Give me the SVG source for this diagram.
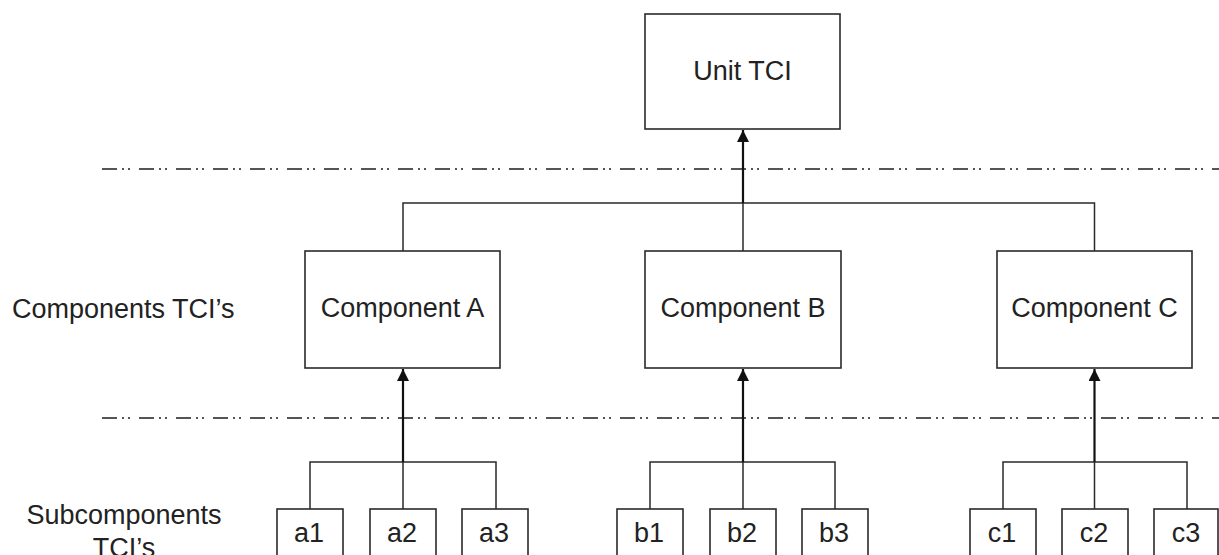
<svg xmlns="http://www.w3.org/2000/svg" width="1219" height="555" viewBox="0 0 1219 555">
  <style>
    .box { fill: #ffffff; stroke: #2a2a2a; stroke-width: 1.6; }
    .lbl { font-family: "Liberation Sans", Arial, sans-serif; font-size: 27px; fill: #222222; text-anchor: middle; }
    .side { font-family: "Liberation Sans", Arial, sans-serif; font-size: 27px; fill: #222222; }
    .link { fill: none; stroke: #2a2a2a; stroke-width: 1.5; }
    .arrow { fill: none; stroke: #111111; stroke-width: 2.2; marker-end: url(#head); }
    .level { fill: none; stroke: #555555; stroke-width: 2; stroke-dasharray: 15 5 2 4 2 9; }
  </style>
  <defs>
    <marker id="head" viewBox="0 0 12 12" refX="12" refY="6" markerWidth="12" markerHeight="12" markerUnits="userSpaceOnUse" orient="auto">
      <path d="M0,0 L12,6 L0,12 Z" fill="#111111"/>
    </marker>
  </defs>

  <!-- level separators -->
  <g id="levels">
    <line class="level" x1="102" y1="169" x2="1219" y2="169"/>
    <line class="level" x1="102" y1="418" x2="1219" y2="418"/>
  </g>

  <!-- side captions -->
  <g id="captions">
    <text class="side" x="12" y="318">Components TCI’s</text>
    <text class="lbl" x="124" y="524">Subcomponents</text>
    <text class="lbl" x="124" y="557">TCI’s</text>
  </g>

  <!-- connectors -->
  <g id="connectors">
    <!-- components to unit -->
    <path class="link" d="M403,251 V203 H1094.5 V251 M743,203 V251"/>
    <line class="arrow" x1="743" y1="203" x2="743" y2="130"/>
    <!-- subcomponents to component A -->
    <path class="link" d="M310,509 V462 H496 V509 M403,462 V509"/>
    <line class="arrow" x1="403" y1="462" x2="403" y2="369"/>
    <!-- subcomponents to component B -->
    <path class="link" d="M650,509 V462 H835 V509 M743,462 V509"/>
    <line class="arrow" x1="743" y1="462" x2="743" y2="369"/>
    <!-- subcomponents to component C -->
    <path class="link" d="M1003,509 V462 H1187 V509 M1094.5,462 V509"/>
    <line class="arrow" x1="1094.5" y1="462" x2="1094.5" y2="369"/>
  </g>

  <!-- unit -->
  <g id="unit">
    <rect class="box" x="645" y="14" width="195" height="115"/>
    <text class="lbl" x="742.5" y="80">Unit TCI</text>
  </g>

  <!-- components -->
  <g id="componentA">
    <rect class="box" x="305" y="251" width="195" height="117"/>
    <text class="lbl" x="402.5" y="317">Component A</text>
  </g>
  <g id="componentB">
    <rect class="box" x="645" y="251" width="196" height="117"/>
    <text class="lbl" x="743" y="317">Component B</text>
  </g>
  <g id="componentC">
    <rect class="box" x="997" y="251" width="195" height="117"/>
    <text class="lbl" x="1094.5" y="317">Component C</text>
  </g>

  <!-- subcomponents -->
  <g id="a1"><rect class="box" x="277" y="509" width="66" height="60"/><text class="lbl" x="309" y="542">a1</text></g>
  <g id="a2"><rect class="box" x="370" y="509" width="66" height="60"/><text class="lbl" x="402" y="542">a2</text></g>
  <g id="a3"><rect class="box" x="462" y="509" width="66" height="60"/><text class="lbl" x="494" y="542">a3</text></g>
  <g id="b1"><rect class="box" x="617" y="509" width="66" height="60"/><text class="lbl" x="649" y="542">b1</text></g>
  <g id="b2"><rect class="box" x="710" y="509" width="66" height="60"/><text class="lbl" x="742" y="542">b2</text></g>
  <g id="b3"><rect class="box" x="802" y="509" width="66" height="60"/><text class="lbl" x="834" y="542">b3</text></g>
  <g id="c1"><rect class="box" x="970" y="509" width="66" height="60"/><text class="lbl" x="1002" y="542">c1</text></g>
  <g id="c2"><rect class="box" x="1062" y="509" width="66" height="60"/><text class="lbl" x="1094" y="542">c2</text></g>
  <g id="c3"><rect class="box" x="1154" y="509" width="64" height="60"/><text class="lbl" x="1186" y="542">c3</text></g>
</svg>
